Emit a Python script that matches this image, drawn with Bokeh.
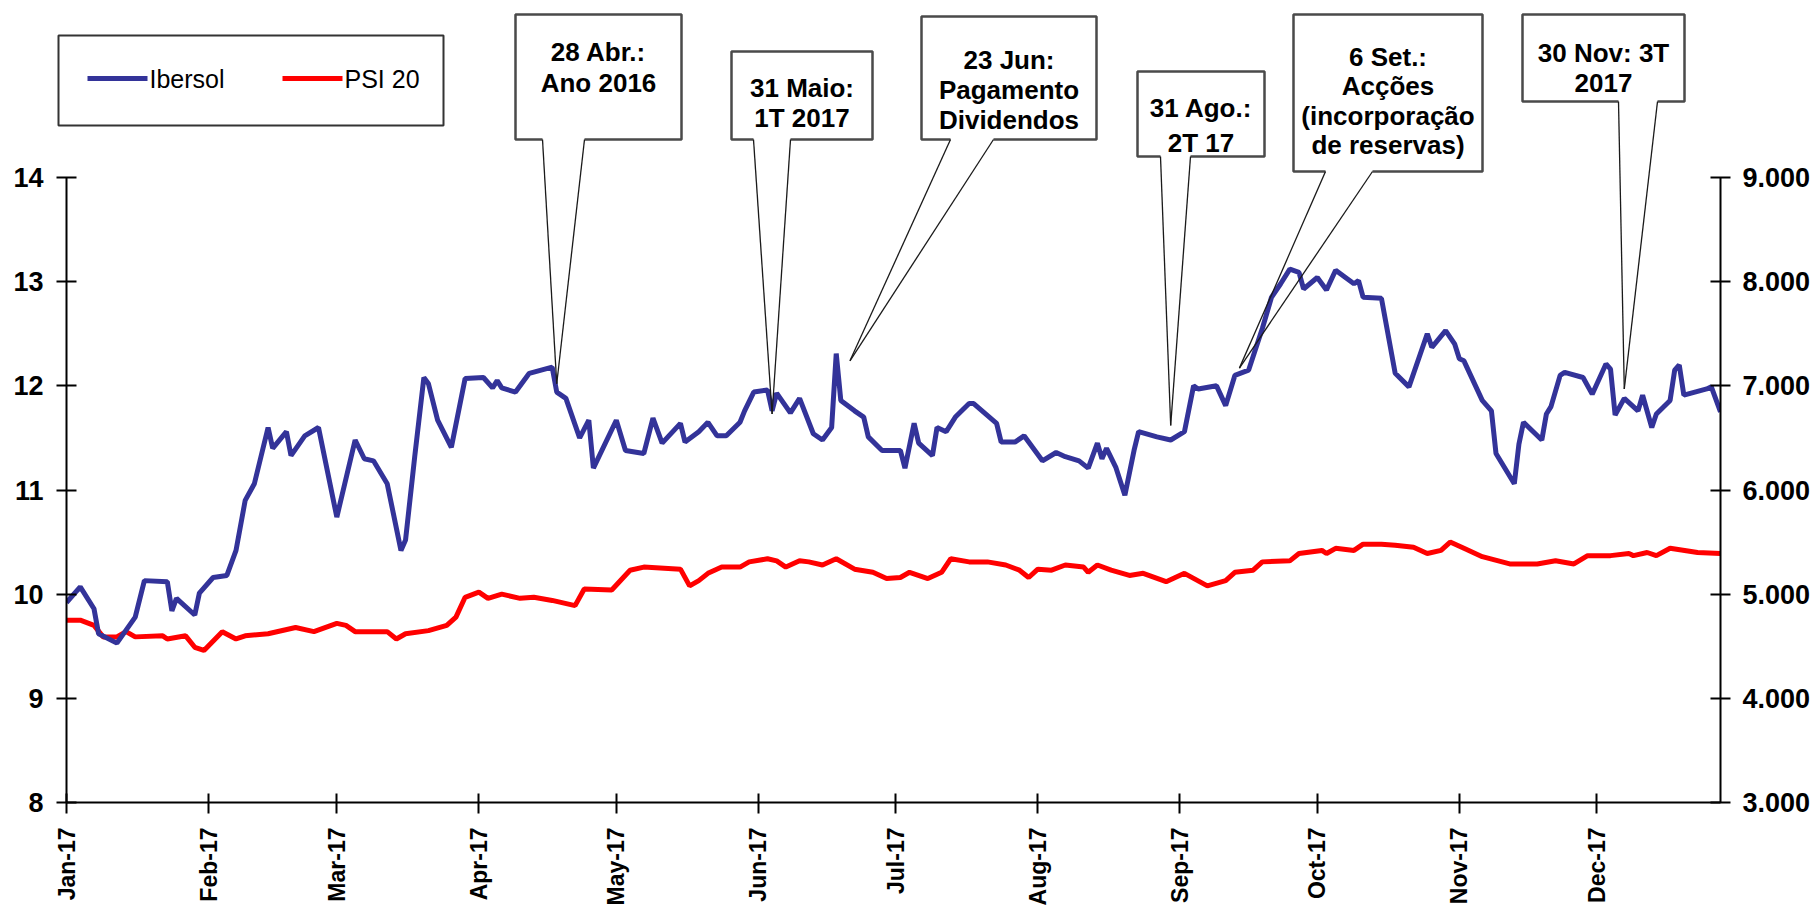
import math
import pandas as pd
from bokeh.plotting import figure
from bokeh.models import Range1d, LinearAxis, FixedTicker
from bokeh.core.properties import value
from bokeh.embed import file_html
from bokeh.resources import INLINE

# ---------------- data ----------------
ibersol_dates = [
    "2017-01-02", "2017-01-05", "2017-01-08", "2017-01-09", "2017-01-13", "2017-01-17", "2017-01-19",
    "2017-01-24", "2017-01-25", "2017-01-26", "2017-01-30", "2017-01-31", "2017-02-03", "2017-02-06",
    "2017-02-08", "2017-02-10", "2017-02-12", "2017-02-15", "2017-02-16", "2017-02-19", "2017-02-20",
    "2017-02-23", "2017-02-26", "2017-03-02", "2017-03-06", "2017-03-08", "2017-03-10", "2017-03-13",
    "2017-03-16", "2017-03-17", "2017-03-19", "2017-03-21", "2017-03-22", "2017-03-24", "2017-03-27",
    "2017-03-30", "2017-04-03", "2017-04-05", "2017-04-06", "2017-04-07", "2017-04-10", "2017-04-13",
    "2017-04-18", "2017-04-19", "2017-04-21", "2017-04-24", "2017-04-26", "2017-04-27", "2017-05-02",
    "2017-05-04", "2017-05-08", "2017-05-10", "2017-05-12", "2017-05-16", "2017-05-17", "2017-05-20",
    "2017-05-22", "2017-05-24", "2017-05-26", "2017-05-29", "2017-05-30", "2017-06-01", "2017-06-04",
    "2017-06-05", "2017-06-06", "2017-06-09", "2017-06-11", "2017-06-14", "2017-06-16", "2017-06-18",
    "2017-06-19", "2017-06-20", "2017-06-23", "2017-06-25", "2017-06-26", "2017-06-29", "2017-07-03",
    "2017-07-04", "2017-07-06", "2017-07-07", "2017-07-10", "2017-07-11", "2017-07-13", "2017-07-15",
    "2017-07-18", "2017-07-19", "2017-07-24", "2017-07-25", "2017-07-28", "2017-07-30", "2017-08-03",
    "2017-08-06", "2017-08-08", "2017-08-11", "2017-08-13", "2017-08-15", "2017-08-16", "2017-08-17",
    "2017-08-19", "2017-08-21", "2017-08-23", "2017-08-24", "2017-08-28", "2017-08-31", "2017-09-03",
    "2017-09-05", "2017-09-06", "2017-09-10", "2017-09-12", "2017-09-14", "2017-09-17", "2017-09-20",
    "2017-09-22", "2017-09-24", "2017-09-26", "2017-09-28", "2017-09-29", "2017-10-02", "2017-10-04",
    "2017-10-06", "2017-10-10", "2017-10-11", "2017-10-12", "2017-10-16", "2017-10-19", "2017-10-22",
    "2017-10-26", "2017-10-27", "2017-10-30", "2017-11-01", "2017-11-02", "2017-11-03", "2017-11-07",
    "2017-11-09", "2017-11-10", "2017-11-14", "2017-11-15", "2017-11-16", "2017-11-20", "2017-11-21",
    "2017-11-22", "2017-11-24", "2017-11-25", "2017-11-29", "2017-12-01", "2017-12-04", "2017-12-05",
    "2017-12-06", "2017-12-08", "2017-12-11", "2017-12-12", "2017-12-14", "2017-12-15", "2017-12-18",
    "2017-12-19", "2017-12-20", "2017-12-21", "2017-12-26", "2017-12-27", "2017-12-29",
]
ibersol_values = [
    9.92, 10.07, 9.86, 9.62, 9.53, 9.78, 10.13,
    10.12, 9.84, 9.96, 9.80, 10.01, 10.16, 10.18,
    10.42, 10.90, 11.06, 11.60, 11.40, 11.56, 11.33,
    11.52, 11.60, 10.74, 11.48, 11.30, 11.28, 11.06,
    10.42, 10.52, 11.32, 12.08, 12.02, 11.67, 11.41,
    12.07, 12.08, 11.98, 12.05, 11.98, 11.94, 12.12,
    12.18, 11.94, 11.88, 11.50, 11.67, 11.21, 11.67,
    11.38, 11.35, 11.69, 11.45, 11.64, 11.46, 11.56,
    11.65, 11.52, 11.52, 11.65, 11.76, 11.94, 11.96,
    11.76, 11.93, 11.74, 11.88, 11.54, 11.48, 11.60,
    12.31, 11.86, 11.76, 11.70, 11.51, 11.38, 11.38,
    11.21, 11.64, 11.45, 11.33, 11.60, 11.56, 11.70,
    11.83, 11.83, 11.64, 11.46, 11.46, 11.52, 11.28,
    11.36, 11.32, 11.28, 11.21, 11.45, 11.30, 11.40,
    11.22, 10.95, 11.38, 11.56, 11.51, 11.48, 11.56,
    12.00, 11.97, 12.00, 11.81, 12.10, 12.15, 12.55,
    12.85, 12.98, 13.12, 13.09, 12.93, 13.04, 12.92,
    13.11, 12.98, 13.01, 12.85, 12.84, 12.12, 11.99,
    12.50, 12.37, 12.53, 12.40, 12.26, 12.24, 11.86,
    11.76, 11.35, 11.06, 11.44, 11.65, 11.48, 11.73,
    11.80, 12.10, 12.13, 12.08, 11.92, 12.21, 12.16,
    11.72, 11.88, 11.76, 11.91, 11.60, 11.73, 11.86,
    12.15, 12.20, 11.91, 11.97, 11.99, 11.75,
]

psi_dates = [
    "2017-01-02", "2017-01-05", "2017-01-08", "2017-01-10", "2017-01-13", "2017-01-15", "2017-01-17",
    "2017-01-23", "2017-01-24", "2017-01-28", "2017-01-30", "2017-02-01", "2017-02-05", "2017-02-08",
    "2017-02-10", "2017-02-15", "2017-02-21", "2017-02-25", "2017-03-02", "2017-03-04", "2017-03-06",
    "2017-03-13", "2017-03-15", "2017-03-17", "2017-03-22", "2017-03-26", "2017-03-28", "2017-03-30",
    "2017-04-02", "2017-04-04", "2017-04-07", "2017-04-11", "2017-04-14", "2017-04-18", "2017-04-23",
    "2017-04-25", "2017-05-01", "2017-05-05", "2017-05-08", "2017-05-16", "2017-05-18", "2017-05-20",
    "2017-05-22", "2017-05-25", "2017-05-29", "2017-05-31", "2017-06-04", "2017-06-06", "2017-06-08",
    "2017-06-11", "2017-06-13", "2017-06-16", "2017-06-19", "2017-06-23", "2017-06-27", "2017-06-30",
    "2017-07-03", "2017-07-05", "2017-07-09", "2017-07-12", "2017-07-14", "2017-07-18", "2017-07-22",
    "2017-07-26", "2017-07-29", "2017-07-31", "2017-08-02", "2017-08-05", "2017-08-08", "2017-08-12",
    "2017-08-13", "2017-08-15", "2017-08-18", "2017-08-22", "2017-08-25", "2017-08-30", "2017-09-03",
    "2017-09-08", "2017-09-12", "2017-09-14", "2017-09-18", "2017-09-20", "2017-09-26", "2017-09-28",
    "2017-10-03", "2017-10-04", "2017-10-06", "2017-10-10", "2017-10-12", "2017-10-16", "2017-10-19",
    "2017-10-23", "2017-10-26", "2017-10-29", "2017-10-31", "2017-11-03", "2017-11-07", "2017-11-13",
    "2017-11-19", "2017-11-23", "2017-11-27", "2017-11-30", "2017-12-05", "2017-12-09", "2017-12-10",
    "2017-12-13", "2017-12-15", "2017-12-18", "2017-12-24", "2017-12-29",
]
psi_values = [
    4750, 4750, 4700, 4590, 4590, 4640, 4590,
    4600, 4570, 4600, 4490, 4460, 4640, 4570,
    4600, 4620, 4680, 4640, 4720, 4700, 4640,
    4640, 4570, 4620, 4650, 4700, 4780, 4970,
    5020, 4960, 5000, 4960, 4970, 4940, 4890,
    5050, 5040, 5230, 5260, 5240, 5080, 5130,
    5200, 5260, 5260, 5310, 5340, 5320, 5260,
    5320, 5310, 5280, 5340, 5240, 5210, 5150,
    5160, 5210, 5150, 5210, 5340, 5310, 5310,
    5280, 5230, 5160, 5240, 5230, 5280, 5260,
    5210, 5280, 5230, 5180, 5200, 5120, 5200,
    5080, 5130, 5210, 5230, 5310, 5320, 5390,
    5420, 5390, 5440, 5420, 5480, 5480, 5470,
    5450, 5390, 5420, 5500, 5440, 5360, 5290,
    5290, 5320, 5290, 5370, 5370, 5390, 5370,
    5400, 5370, 5440, 5400, 5390,
]

series_names = ["Ibersol", "PSI 20"]
series_colors = ["#333399", "#ff0000"]

month_tick_dates = ["2017-01-02", "2017-02-02", "2017-03-02", "2017-04-02", "2017-05-02", "2017-06-02",
                    "2017-07-02", "2017-08-02", "2017-09-02", "2017-10-02", "2017-11-02", "2017-12-02"]
month_tick_labels = ["Jan-17", "Feb-17", "Mar-17", "Apr-17", "May-17", "Jun-17",
                     "Jul-17", "Aug-17", "Sep-17", "Oct-17", "Nov-17", "Dec-17"]
left_ticks = [8, 9, 10, 11, 12, 13, 14]
right_ticks = [3000, 4000, 5000, 6000, 7000, 8000, 9000]
right_tick_labels = ["3.000", "4.000", "5.000", "6.000", "7.000", "8.000", "9.000"]

event_dates = ["2017-04-19", "2017-06-05", "2017-06-22", "2017-08-31", "2017-09-15", "2017-12-08"]
event_values = [12.02, 11.73, 12.24, 11.62, 12.17, 11.97]
event_texts = [
    "28 Abr.:\nAno 2016",
    "31 Maio:\n1T 2017",
    "23 Jun:\nPagamento\nDividendos",
    "31 Ago.:\n2T 17",
    "6 Set.:\nAcções\n(incorporação\nde reservas)",
    "30 Nov: 3T\n2017",
]

# ---------------- layout (page pixels) ----------------
X_START, X_END = pd.Timestamp("2017-01-02"), pd.Timestamp("2017-12-29")
Y_MIN, Y_MAX = 8, 14
P_MIN, P_MAX = 3000, 9000
CANVAS_W, CANVAS_H = 1815, 912
FRAME_L, FRAME_T, FRAME_W, FRAME_H = 66, 177, 1654, 625

box_rects = [(515, 14, 681, 139), (731, 51, 872, 139), (921, 16, 1096, 139),
             (1137, 71, 1264, 156), (1293, 14, 1482, 171), (1522, 14, 1684, 101)]
box_gaps = [(542, 584), (753, 790), (950, 993), (1160, 1190), (1325, 1372), (1618, 1657)]
text_first_top = [32, 68, 40, 88, 37, 33]
text_step = [31, 30, 30, 35, 29.5, 30]

legend_rect = (58, 35, 443, 125)
legend_swatches = [(87, 147), (282, 342)]
legend_label_x = [149, 344]
legend_mid_y = 78

t0 = X_START.value / 1e6
t1 = X_END.value / 1e6


def px_x(px):
    return t0 + (px - FRAME_L) / FRAME_W * (t1 - t0)


def px_y(py):
    return Y_MAX - (py - FRAME_T) / FRAME_H * (Y_MAX - Y_MIN)


# ---------------- figure ----------------
p = figure(width=CANVAS_W, height=CANVAS_H, x_axis_type="datetime",
           x_range=Range1d(X_START, X_END), y_range=Range1d(Y_MIN, Y_MAX),
           output_backend="svg", toolbar_location=None,
           min_border_left=FRAME_L, min_border_top=FRAME_T,
           min_border_right=CANVAS_W - FRAME_L - FRAME_W,
           min_border_bottom=CANVAS_H - FRAME_T - FRAME_H)
p.extra_y_ranges = {"psi": Range1d(P_MIN, P_MAX)}
p.outline_line_color = None
p.xgrid.grid_line_color = None
p.ygrid.grid_line_color = None
p.background_fill_color = "white"
p.border_fill_color = "white"

FONT = value("Liberation Sans")

r_psi = p.line(pd.to_datetime(psi_dates), psi_values, y_range_name="psi",
               line_color=series_colors[1], line_width=5)
r_ib = p.line(pd.to_datetime(ibersol_dates), ibersol_values,
              line_color=series_colors[0], line_width=5)

# axes
xa = p.xaxis[0]
tick_ms = [pd.Timestamp(d).value / 1e6 for d in month_tick_dates]
xa.ticker = FixedTicker(ticks=tick_ms)
xa.major_label_overrides = {ms: lab for ms, lab in zip(tick_ms, month_tick_labels)}
xa.major_label_orientation = math.pi / 2
xa.minor_tick_line_color = None

ya = p.yaxis[0]
ya.ticker = FixedTicker(ticks=left_ticks)
ya.minor_tick_line_color = None

ra = LinearAxis(y_range_name="psi", ticker=FixedTicker(ticks=right_ticks))
ra.major_label_overrides = {t: lab for t, lab in zip(right_ticks, right_tick_labels)}
ra.minor_tick_line_color = None
p.add_layout(ra, "right")

for ax, lab_size, standoff in ((xa, "23px", 14), (ya, "27px", 13), (ra, "27px", 12)):
    ax.axis_line_color = "black"
    ax.axis_line_width = 2
    ax.major_tick_line_color = "black"
    ax.major_tick_line_width = 2
    ax.major_tick_in = 10
    ax.major_tick_out = 10
    ax.major_label_text_font = "Liberation Sans"
    ax.major_label_text_font_style = "bold"
    ax.major_label_text_font_size = lab_size
    ax.major_label_text_color = "black"
    ax.major_label_standoff = standoff
xa.major_tick_in = 9
xa.major_tick_out = 11

# legend (drawn as overlay marks so it can sit above the frame)
l, t, r, b = legend_rect
p.quad(left=[px_x(l)], right=[px_x(r)], top=[px_y(t)], bottom=[px_y(b)],
       fill_color="white", line_color="#333333", line_width=2, level="overlay")
p.multi_line([[px_x(a), px_x(c)] for a, c in legend_swatches],
             [[px_y(legend_mid_y)] * 2 for _ in legend_swatches],
             line_color=series_colors, line_width=5, level="overlay")
p.text([px_x(v) for v in legend_label_x], [px_y(legend_mid_y)] * 2, text=series_names,
       text_font=FONT, text_font_size="25px", text_align="left", text_baseline="middle",
       text_color="black", level="overlay")

# callouts
outline_xs, outline_ys, tail_xs, tail_ys = [], [], [], []
tx, ty, tt = [], [], []
for i, (rect, gap) in enumerate(zip(box_rects, box_gaps)):
    l, t, r, b = rect
    gl, gr = gap
    outline_xs.append([px_x(v) for v in (gl, l, l, r, r, gr)])
    outline_ys.append([px_y(v) for v in (b, b, t, t, b, b)])
    tip_x = pd.Timestamp(event_dates[i]).value / 1e6
    tip_y = event_values[i]
    tail_xs += [[px_x(gl), tip_x], [px_x(gr), tip_x]]
    tail_ys += [[px_y(b), tip_y], [px_y(b), tip_y]]
    cx = (l + r) / 2
    for j, line in enumerate(event_texts[i].split("\n")):
        tx.append(px_x(cx))
        ty.append(px_y(text_first_top[i] + j * text_step[i] + 19))
        tt.append(line)

p.multi_line(outline_xs, outline_ys, line_color="#4a4a4a", line_width=2.5, level="overlay")
p.multi_line(tail_xs, tail_ys, line_color="#1a1a1a", line_width=1.3, level="overlay")
p.text(tx, ty, text=tt, text_font=FONT, text_font_style="bold", text_font_size="26px",
       text_align="center", text_baseline="alphabetic", text_color="black", level="overlay")

open("out.html", "w").write(file_html(p, INLINE))
